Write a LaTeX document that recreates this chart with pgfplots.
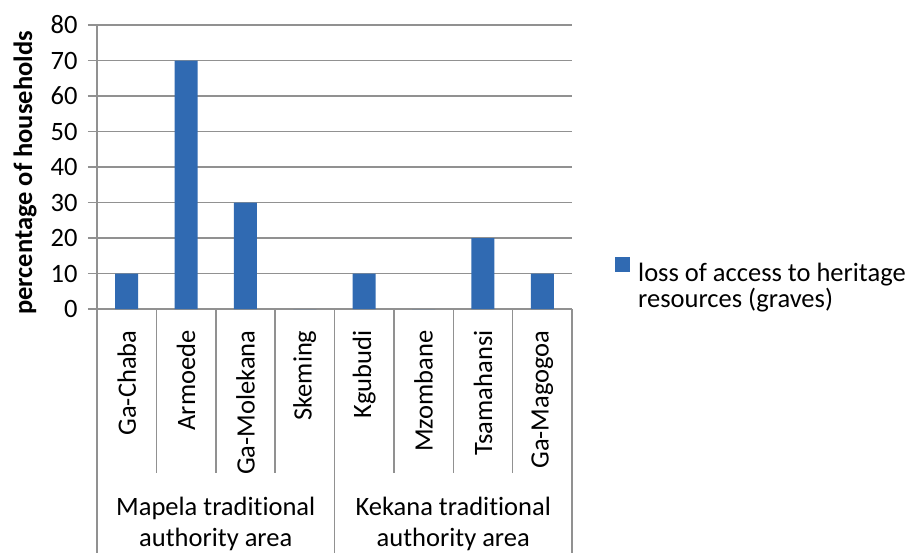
\documentclass[border=0pt]{standalone}
\usepackage{pgfplots}
\pgfplotsset{compat=1.18}
\usepackage{fontspec}
\setmainfont{Carlito}[Ligatures={NoCommon}]
\definecolor{barcol}{RGB}{48,106,178}
\definecolor{gridcol}{RGB}{145,145,145}
\newcommand\chartfont{\fontsize{26.5}{31}\selectfont}
\newcommand\legfont{\fontsize{26.5}{29.5}\selectfont}
\begin{document}
\begin{tikzpicture}
\useasboundingbox (0,0) rectangle (908pt,-553pt);
\begin{axis}[
  at={(97pt,-309pt)}, anchor=south west,
  scale only axis, width=475pt, height=284pt,
  xmin=-0.5, xmax=7.5, ymin=0, ymax=80,
  axis x line=bottom, axis y line=left,
  axis line style={-, draw=gridcol, line width=1.5pt},
  ytick={0,10,...,80},
  ymajorgrids, grid style={draw=gridcol, line width=1.5pt},
  ytick style={draw=gridcol, line width=1.5pt},
  major tick length=9pt, tick align=outside,
  xtick={0,...,7}, xtick style={draw=none},
  xticklabels={Ga-Chaba,Armoede,Ga-Molekana,Skeming,Kgubudi,Mzombane,Tsamahansi,Ga-Magogoa},
  xticklabel style={yshift=-9pt, rotate=90, anchor=east},
  ticklabel style={font=\chartfont},
  /pgf/number format/assume math mode=true,
  yticklabel style={xshift=-7pt},
  ylabel={\bfseries percentage of households},
  ylabel style={font=\chartfont, at={(axis description cs:-0.1516,0.479)}, anchor=center},
  clip=false,
  legend style={at={(axis description cs:1.0905,0.184)}, anchor=north west, draw=none, fill=none, inner sep=0pt, font=\legfont},
  legend cell align=left,
]
\addplot[ybar, bar width=23pt, fill=barcol, draw=none,
  legend image code/.code={\fill[barcol] (0pt,0pt) rectangle (15pt,15pt); \path (21pt,0pt);}]
  coordinates {(0,10)(1,70)(2,30)(3,0)(4,10)(5,0)(6,20)(7,10)};
\addlegendentry{\begin{tabular}[t]{@{}l@{}}loss of access to heritage\\[-4pt]resources (graves)\end{tabular}}
\pgfplotsinvokeforeach{0.5,1.5,2.5,4.5,5.5,6.5}{\draw[gridcol, line width=1.5pt] (axis cs:#1,0) -- ([yshift=-164pt]axis cs:#1,0);}
\pgfplotsinvokeforeach{-0.5,3.5,7.5}{\draw[gridcol, line width=1.5pt] (axis cs:#1,0) -- ([yshift=-250pt]axis cs:#1,0);}
\node[align=center, font=\chartfont] at ([yshift=-215pt]axis cs:1.5,0) {Mapela traditional\\authority area};
\node[align=center, font=\chartfont] at ([yshift=-215pt]axis cs:5.5,0) {Kekana traditional\\authority area};
\end{axis}
\end{tikzpicture}
\end{document}
